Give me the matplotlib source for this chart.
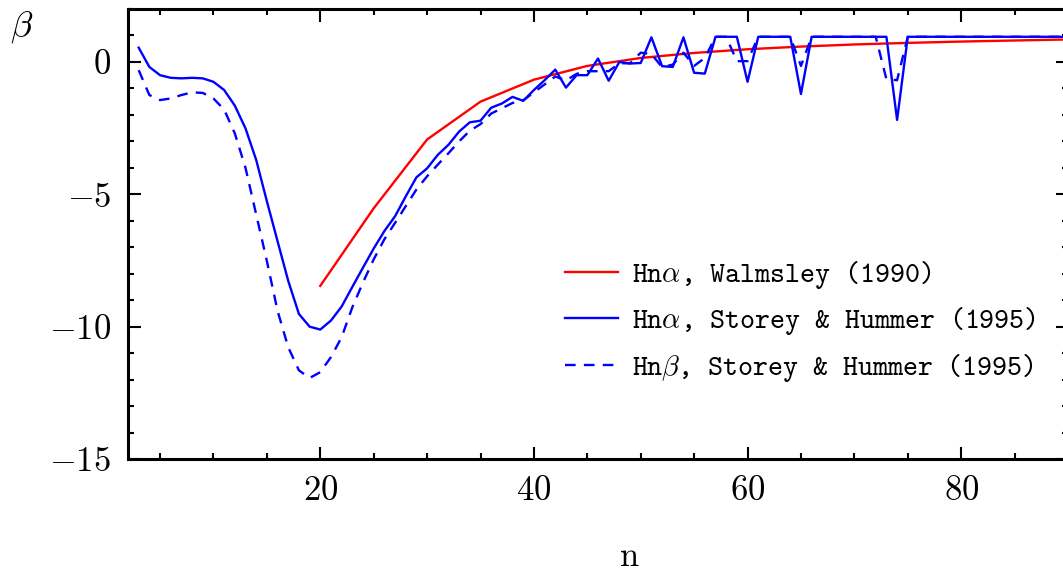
import numpy as np
import matplotlib
matplotlib.use("Agg")
import matplotlib.pyplot as plt
from matplotlib.ticker import MultipleLocator

plt.rcParams['font.family'] = 'cmr10'
plt.rcParams['mathtext.fontset'] = 'cm'
plt.rcParams['axes.formatter.use_mathtext'] = True

# Walmsley (1990), Hn alpha
n_walm = [20, 25, 30, 35, 40, 45, 50, 55, 60, 65, 70, 75, 80, 85, 90]
beta_walm = [-8.46, -5.53, -2.93, -1.50, -0.67, -0.15, 0.15, 0.34, 0.48,
             0.58, 0.66, 0.72, 0.77, 0.81, 0.85]

# Storey & Hummer (1995), n = 3 .. 90
n_sh = list(range(3, 91))
beta_alpha = [0.54, -0.19, -0.50, -0.60, -0.62, -0.60, -0.62, -0.75, -1.06, -1.65,   # 3-12
              -2.51, -3.70, -5.26, -6.77, -8.27, -9.52, -10.00, -10.11, -9.77, -9.24,  # 13-22
              -8.50, -7.77, -7.05, -6.39, -5.83, -5.08, -4.36, -4.02, -3.51, -3.13,  # 23-32
              -2.63, -2.28, -2.22, -1.73, -1.57, -1.32, -1.47, -1.06, -0.69, -0.29,  # 33-42
              -0.97, -0.50, -0.50, 0.13, -0.71, 0.00, -0.06, -0.04, 0.93, -0.16,  # 43-52
              -0.19, 0.93, -0.41, -0.44, 0.95, 0.95, 0.95, -0.75, 0.95, 0.95,  # 53-62
              0.95, 0.95, -1.21, 0.95, 0.95, 0.95, 0.95, 0.95, 0.95, 0.95,  # 63-72
              0.95, -2.19, 0.95, 0.95, 0.95, 0.95, 0.95, 0.95, 0.95, 0.95,  # 73-82
              0.95, 0.95, 0.95, 0.95, 0.95, 0.95, 0.95, 0.95]  # 83-90
beta_beta = [-0.31, -1.25, -1.44, -1.38, -1.25, -1.15, -1.17, -1.38, -1.80, -2.70,  # 3-12
             -4.00, -5.76, -7.52, -9.40, -10.78, -11.65, -11.94, -11.72, -11.15, -10.40,  # 13-22
             -9.27, -8.33, -7.46, -6.70, -6.08, -5.45, -4.82, -4.32, -3.88, -3.45,  # 23-32
             -3.00, -2.60, -2.35, -1.95, -1.75, -1.55, -1.45, -1.15, -0.85, -0.55,  # 33-42
             -0.70, -0.45, -0.35, -0.35, -0.35, -0.05, -0.05, 0.35, 0.30, -0.20,  # 43-52
             -0.10, 0.35, -0.15, 0.15, 0.95, 0.95, 0.03, 0.03, 0.95, 0.95,  # 53-62
             0.95, 0.95, -0.15, 0.95, 0.95, 0.95, 0.95, 0.95, 0.95, 0.95,  # 63-72
             -0.65, -0.69, 0.95, 0.95, 0.95, 0.95, 0.95, 0.95, 0.95, 0.95,  # 73-82
             0.95, 0.95, 0.95, 0.95, 0.95, 0.95, 0.95, 0.95]  # 83-90

fig = plt.figure(figsize=(10.63, 5.72), dpi=100)
ax = fig.add_axes([128 / 1063, 1 - 459 / 572, 940 / 1063, 450 / 572])

ax.plot(n_walm, beta_walm, color='#ff0000', lw=1.7,
        label=r'Hn$\alpha$, Walmsley (1990)')
ax.plot(n_sh, beta_alpha, color='#0000ff', lw=1.7,
        label=r'Hn$\alpha$, Storey & Hummer (1995)')
ax.plot(n_sh, beta_beta, color='#0000ff', lw=1.7, dashes=(4.5, 3.5),
        label=r'Hn$\beta$, Storey & Hummer (1995)')

ax.set_xlim(2, 90)
ax.set_ylim(-15, 2)
ax.xaxis.set_major_locator(MultipleLocator(20))
ax.xaxis.set_minor_locator(MultipleLocator(5))
ax.yaxis.set_major_locator(MultipleLocator(5))
ax.yaxis.set_minor_locator(MultipleLocator(1))
ax.tick_params(which='both', direction='in', top=True, right=True, width=1.5)
ax.tick_params(which='major', length=9, labelsize=25, pad=12)
ax.tick_params(which='minor', length=4.5)
for s in ax.spines.values():
    s.set_linewidth(2.2)

fig.text(10 / 1063, 1 - 27 / 572, r'$\beta$', fontsize=26, va='center', ha='left')
fig.text(630 / 1063, 1 - 557 / 572, 'n', fontsize=25, va='center', ha='center')

leg = ax.legend(loc='upper left', bbox_to_anchor=(0.465, 0.444), frameon=False,
                prop={'family': 'cmtt10', 'size': 20.5}, handlelength=1.85,
                handletextpad=0.5, labelspacing=0.5, borderpad=0, borderaxespad=0)

fig.savefig('out.png', dpi=100)
